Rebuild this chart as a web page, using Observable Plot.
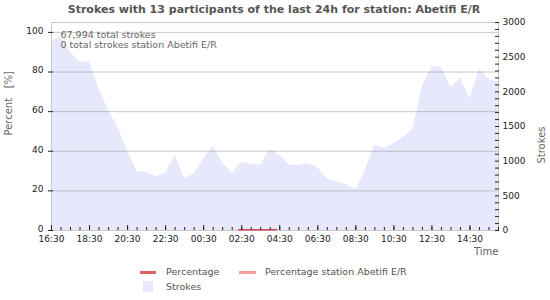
<!DOCTYPE html>
<html><head><meta charset="utf-8">
<script src="https://cdn.jsdelivr.net/npm/d3@7"></script>
<script src="https://cdn.jsdelivr.net/npm/@observablehq/plot@0.6"></script>
<style>
body{margin:0;background:#fff;font-family:"DejaVu Sans",sans-serif;}
#wrap{position:relative;width:550px;height:300px;}
#title{position:absolute;left:0;top:3px;width:548px;text-align:center;font-weight:bold;font-size:11px;color:#555;}
.lg{position:absolute;font-size:9.5px;color:#555;font-family:"DejaVu Sans",sans-serif;}
.sw{position:absolute;}
</style></head><body>
<div id="wrap">
<div id="chart"></div>
<div id="title">Strokes with 13 participants of the last 24h for station: Abetifi E/R</div>
<div class="sw" style="left:140px;top:271px;width:16px;height:3px;background:#e06060"></div>
<div class="lg" style="left:166px;top:266px">Percentage</div>
<div class="sw" style="left:239px;top:271px;width:17px;height:3px;background:#f4a0a0"></div>
<div class="lg" style="left:265px;top:266px">Percentage station Abetifi E/R</div>
<div class="sw" style="left:143px;top:281px;width:10px;height:11px;background:#e8e8fc"></div>
<div class="lg" style="left:166px;top:281px">Strokes</div>
</div>
<script>
// Data (30-minute bins starting 16:30)
const startTime = "16:30";
const strokes = [2720,2800,2570,2430,2430,2040,1730,1480,1150,850,840,770,830,1080,745,815,1030,1210,975,830,985,955,950,1175,1080,940,940,965,910,740,700,665,590,870,1230,1190,1250,1340,1460,2080,2370,2360,2060,2200,1900,2330,2180,2140];
const pctTimes = ["02:20","04:20"];
const pctValues = [0.4,0.4];
const totalStrokes = "67,994 total strokes";
const stationStrokes = "0 total strokes station Abetifi E/R";
const pctTicks = [0,20,40,60,80,100];
const strokeTicks = [0,500,1000,1500,2000,2500,3000];

const PMAX = 105, SMAX = 3000;
const toP = s => s * PMAX / SMAX;
const base = Date.UTC(2024,0,1,16,30);
const t = (hm) => { const [h,m] = hm.split(":").map(Number); let d = Date.UTC(2024,0,1,h,m); if (d < base) d += 864e5; return new Date(d); };
const t0 = t(startTime);
const data = strokes.map((s,i) => ({time: new Date(+t0 + i*30*60000), p: toP(s)}));
const pdata = pctTimes.map((hm,i) => ({time: t(hm), p: pctValues[i]}));
const domainX = [t0, new Date(+t0 + 47*30*60000)];
const allX = d3.utcMinute.every(30).range(t0, new Date(+domainX[1]+1));
const majorX = allX.filter((d,i) => i % 4 === 0);
const minorS = d3.range(0, SMAX+1, 100).map(toP);

const plot = Plot.plot({
  width: 550, height: 300,
  marginLeft: 51, marginRight: 52, marginTop: 22, marginBottom: 70,
  style: {fontFamily: "DejaVu Sans, sans-serif", fontSize: "9px", color: "#222"},
  x: {type: "utc", domain: domainX},
  y: {domain: [0, PMAX]},
  marks: [
    Plot.areaY(data, {x: "time", y: "p", fill: "#e8e8fc", curve: "linear"}),
    Plot.gridY(pctTicks.slice(1), {stroke: "#888", strokeOpacity: 0.45}),
    Plot.frame({stroke: "#c8c8c8"}),
    Plot.lineY(pdata, {x: "time", y: "p", stroke: "#d04a55", strokeWidth: 1.5}),
    // left axis
    Plot.axisY({ticks: pctTicks, tickSize: 0, tickPadding: 8, dy: -1.5, label: null, tickFormat: d => String(d)}),
    Plot.axisY({ticks: pctTicks, tickSize: 5, insetLeft: 2, tickFormat: () => "", label: null}),
    // right axis
    Plot.axisY({anchor: "right", ticks: strokeTicks.map(toP), tickSize: 0, tickPadding: 4, tickFormat: d => String(Math.round(d*SMAX/PMAX)), label: null}),
    Plot.axisY({anchor: "right", ticks: minorS, tickSize: 4, insetRight: 4, tickFormat: () => "", label: null}),
    // x axis
    Plot.axisX({ticks: majorX, tickSize: 0, tickPadding: 5, tickFormat: d3.utcFormat("%H:%M"), label: null}),
    Plot.axisX({ticks: allX, tickSize: 3, insetBottom: 3, tickFormat: () => "", label: null}),
    Plot.axisX({ticks: majorX, tickSize: 5, insetBottom: 5, tickFormat: () => "", label: null}),
    Plot.text([totalStrokes], {frameAnchor: "top-left", dx: 9, dy: 8.5, text: d => d, textAnchor: "start", fill: "#666", fontSize: 9.5}),
    Plot.text([stationStrokes], {frameAnchor: "top-left", dx: 9, dy: 18.5, text: d => d, textAnchor: "start", fill: "#666", fontSize: 9.5}),
    Plot.text(["Percent   [%]"], {frameAnchor: "left", dx: -43, dy: 9, rotate: -90, text: d => d, fill: "#666", fontSize: 10}),
    Plot.text(["Strokes"], {frameAnchor: "right", dx: 43, dy: 0, rotate: -90, text: d => d, fill: "#666", fontSize: 10}),
    Plot.text(["Time"], {frameAnchor: "bottom-right", dx: 0, dy: 24, text: d => d, fill: "#666", fontSize: 10})
  ]
});
document.getElementById("chart").appendChild(plot);
</script>
</body></html>
